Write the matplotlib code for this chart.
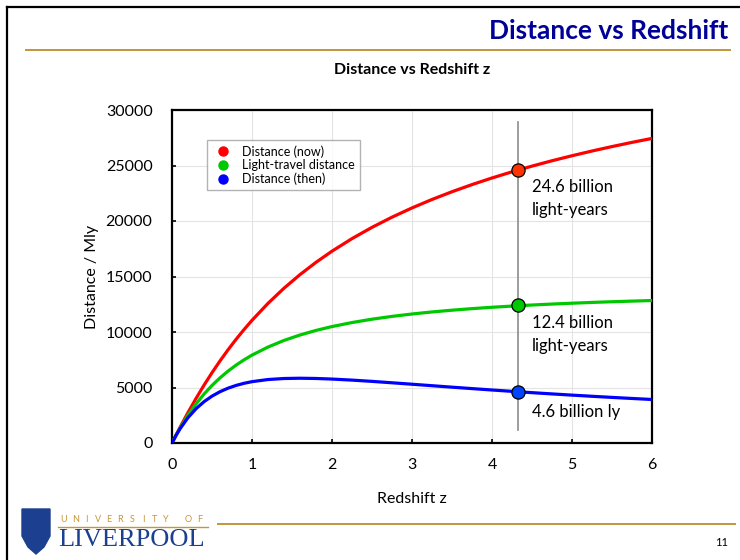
import matplotlib
matplotlib.use("Agg")
import matplotlib.pyplot as plt
from matplotlib.patches import Polygon
from matplotlib.lines import Line2D

plt.rcParams['font.family'] = ['Lato', 'DejaVu Sans']

# ---- data (Mly) ----
z = [0, 0.05, 0.1, 0.2, 0.3, 0.4, 0.5, 0.6, 0.7, 0.8, 0.9, 1.0, 1.2, 1.4, 1.6,
     1.8, 2.0, 2.25, 2.5, 2.75, 3.0, 3.25, 3.5, 3.75, 4.0, 4.25, 4.5, 4.75,
     5.0, 5.25, 5.5, 5.75, 6.0]
dist_now = [0, 712, 1406, 2744, 4010, 5206, 6333, 7394, 8393, 9333, 10218, 11051,
            12580, 13945, 15170, 16277, 17281, 18413, 19428, 20345, 21178, 21939,
            22637, 23281, 23876, 24430, 24945, 25428, 25879, 26305, 26705, 27083,
            27441]
light_travel = [0, 695, 1340, 2505, 3517, 4406, 5185, 5868, 6473, 7012, 7489, 7918,
                8643, 9241, 9730, 10142, 10489, 10852, 11153, 11406, 11621, 11806,
                11965, 12104, 12227, 12335, 12431, 12517, 12593, 12665, 12726,
                12783, 12835]
dist_then = [0, 678, 1278, 2287, 3085, 3719, 4222, 4621, 4937, 5185, 5378, 5526,
             5718, 5810, 5835, 5813, 5760, 5666, 5551, 5425, 5295, 5162, 5030,
             4901, 4775, 4653, 4535, 4422, 4313, 4209, 4108, 4012, 3920]
series_names = ["Distance (now)", "Light-travel distance", "Distance (then)"]

z_mark = 4.33
mark_values = [24600, 12400, 4600]
mark_labels = ["24.6 billion\nlight-years", "12.4 billion\nlight-years", "4.6 billion ly"]
vline_range = [1150, 28950]

yticks = [0, 5000, 10000, 15000, 20000, 25000, 30000]
xticks = [0, 1, 2, 3, 4, 5, 6]

W, H = 740, 560
fig = plt.figure(figsize=(W / 100, H / 100), dpi=100)
fig.patch.set_facecolor('white')


def fx(x):
    return x / W


def fy(y):
    return 1 - y / H


# ---- slide decorations ----
fig.add_artist(Line2D([fx(7), fx(7)], [fy(7), fy(560)], color='black', lw=1.6,
                      transform=fig.transFigure))
fig.add_artist(Line2D([fx(7), fx(740)], [fy(7), fy(7)], color='black', lw=1.6,
                      transform=fig.transFigure))
gold = '#c4953a'
fig.add_artist(Line2D([fx(26), fx(730)], [fy(50), fy(50)], color=gold, lw=1.4,
                      transform=fig.transFigure))
fig.text(fx(728), fy(31), "Distance vs Redshift", ha='right', va='center',
         fontsize=19, fontweight='bold', color='#000099')

# bottom footer
fig.add_artist(Line2D([fx(218), fx(735)], [fy(524), fy(524)], color=gold, lw=1.4,
                      transform=fig.transFigure))
fig.add_artist(Line2D([fx(58), fx(208)], [fy(527), fy(527)], color=gold, lw=1.0,
                      transform=fig.transFigure))
fig.text(fx(722), fy(543), "11", ha='center', va='center', fontsize=8, color='black')
shield = [(22, 509), (50, 509), (50, 536), (44, 547), (36, 554), (28, 547), (22, 536)]
fig.add_artist(Polygon([(fx(a), fy(b)) for a, b in shield], closed=True,
                       facecolor='#1c3f8f', edgecolor='#1c3f8f',
                       transform=fig.transFigure))
letters = "UNIVERSITY OF"
for i, ch in enumerate(letters):
    fig.text(fx(64 + i * 11.3), fy(519), ch, ha='center', va='center',
             fontsize=6.5, color=gold)
fig.text(fx(58), fy(540), "LIVERPOOL", ha='left', va='center', fontsize=19,
         color='#1c3f8f', family=['Liberation Serif', 'DejaVu Serif'])

# ---- chart ----
ax = fig.add_axes([fx(172), fy(443), (652 - 172) / W, (443 - 110) / H])
ax.grid(True, color='#e4e4e4', lw=0.8, zorder=0)
ax.set_axisbelow(True)

colors = ['#ff0000', '#00c800', '#0000ff']
for vals, c in zip([dist_now, light_travel, dist_then], colors):
    ax.plot(z, vals, color=c, lw=2.3, solid_capstyle='round', zorder=3)

ax.plot([z_mark, z_mark], vline_range, color='#8c8c8c', lw=1.2, zorder=2)
mark_colors = ['#ff3300', '#00c800', '#0044ff']
for v, c in zip(mark_values, mark_colors):
    ax.plot([z_mark], [v], marker='o', ms=9.5, mfc=c, mec='black', mew=0.9, zorder=5)

text_offsets = [-800, -900, -1100]
for v, lab, off in zip(mark_values, mark_labels, text_offsets):
    ax.text(4.5, v + off, lab, ha='left', va='top', fontsize=12, linespacing=1.55,
            zorder=6)

ax.set_xlim(0, 6)
ax.set_ylim(0, 30000)
ax.set_xticks(xticks)
ax.set_yticks(yticks)
ax.tick_params(direction='in', length=3, width=1.2, labelsize=11.5, colors='black')
ax.tick_params(axis='y', pad=14)
ax.tick_params(axis='x', pad=11)
for s in ax.spines.values():
    s.set_linewidth(1.6)
    s.set_color('black')

ax.set_xlabel("Redshift z", fontsize=11.5, labelpad=14)
ax.set_ylabel("Distance / Mly", fontsize=11.5, labelpad=5)
ax.set_title("Distance vs Redshift z", fontsize=11.5, fontweight='bold', pad=26)

handles = [Line2D([], [], ls='none', marker='o', ms=6.5, mfc=c, mec=c) for c in colors]
leg = ax.legend(handles, series_names, loc='upper left', bbox_to_anchor=(0.073, 0.91),
                fontsize=9, frameon=True, fancybox=False, edgecolor='#a0a0a0',
                handletextpad=0.6, borderpad=0.4, labelspacing=0.12,
                handlelength=1.8, borderaxespad=0)
leg.get_frame().set_linewidth(1.0)

fig.savefig("out.png", dpi=100, facecolor='white')
